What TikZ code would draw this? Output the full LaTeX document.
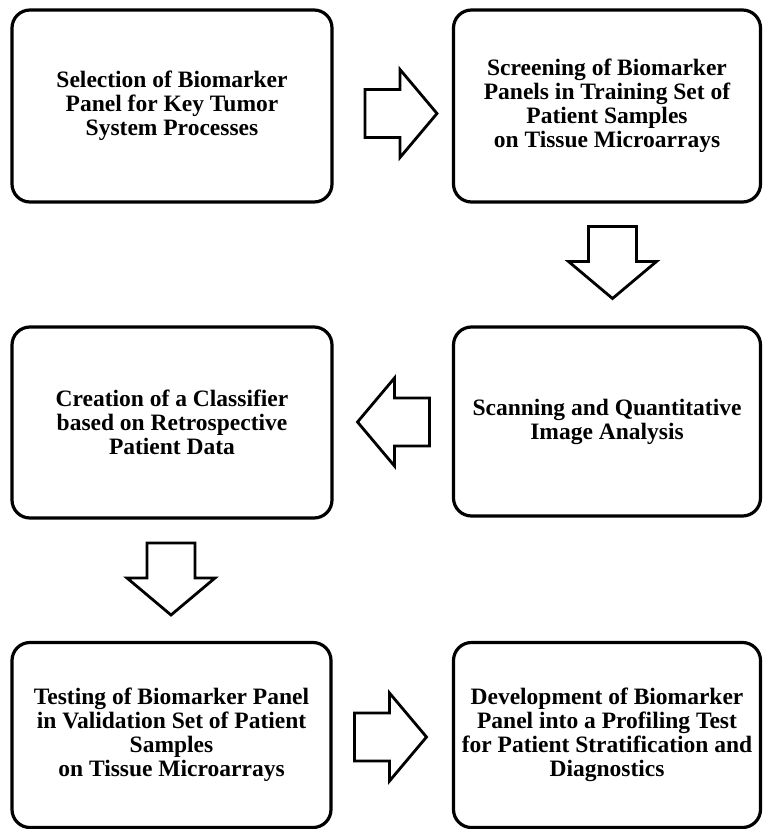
\documentclass[tikz,border=0pt]{standalone}
\usepackage{fontspec}
\setmainfont{Liberation Serif}
\begin{document}
\begin{tikzpicture}[x=1pt,y=-1pt,
  stepbox/.style={draw=black, line width=3.2pt, rounded corners=18pt, inner sep=0pt,
    align=center, font=\fontsize{23.5}{24}\selectfont\bfseries},
  arrowline/.style={draw=black, line width=2.8pt, line join=miter, fill=white},
  pics/blockarrow/.style={code={
    \draw[arrowline] (-36,-24)--(-1,-24)--(-1,-44)--(36,0)--(-1,44)--(-1,24)--(-36,24)--cycle;}}
]
\useasboundingbox (0,0) rectangle (763,829);
\node[stepbox, minimum width=320pt, minimum height=192pt] (b1) at (172,106)
  {Selection of Biomarker\\Panel for Key Tumor\\System Processes};
\node[stepbox, minimum width=307pt, minimum height=192pt] (b2) at (607,106)
  {Screening of Biomarker\\Panels in Training Set of\\Patient Samples\\on Tissue Microarrays};
\node[stepbox, minimum width=320pt, minimum height=191pt] (b3) at (172,422.5)
  {Creation of a Classifier\\based on Retrospective\\Patient Data};
\node[stepbox, minimum width=307pt, minimum height=189pt] (b4) at (607,421.5)
  {Scanning and Quantitative\\Image Analysis};
\node[stepbox, minimum width=319pt, minimum height=185pt] (b5) at (171.5,735)
  {Testing of Biomarker Panel\\in Validation Set of Patient\\Samples\\on Tissue Microarrays};
\node[stepbox, minimum width=307pt, minimum height=185pt] (b6) at (607,735)
  {Development of Biomarker\\Panel into a Profiling Test\\for Patient Stratification and\\Diagnostics};
\pic at (401,113.5) {blockarrow};
\pic[rotate=-90] at (612.5,262.5) {blockarrow};
\pic[rotate=180] at (393.5,422) {blockarrow};
\pic[rotate=-90] at (171,579) {blockarrow};
\pic at (390.5,737) {blockarrow};
\end{tikzpicture}
\end{document}
